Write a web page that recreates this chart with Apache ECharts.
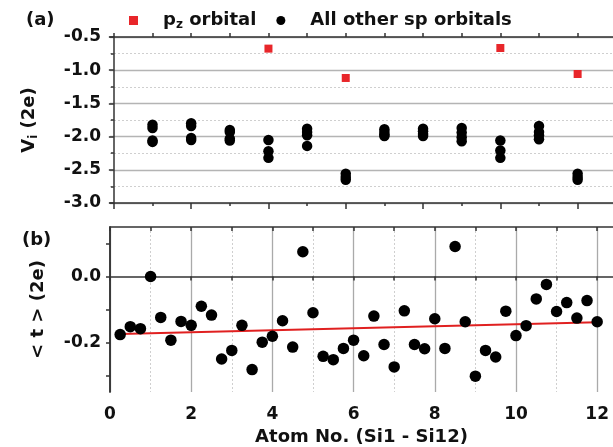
<!DOCTYPE html>
<html><head><meta charset="utf-8">
<script src="https://cdn.jsdelivr.net/npm/echarts@6/dist/echarts.min.js"></script>
<style>html,body{margin:0;padding:0;background:#fff}#c{width:613px;height:447px}</style>
</head><body><div id="c"></div>
<script>
// ---- data ----
const pzAtoms = [4, 6, 10, 12];
const pzValues = [-0.675, -1.117, -0.666, -1.057];
const spAtoms = [1,2,3,4,5,6,7,8,9,10,11,12];
const spValues = [
  [-1.82, -1.87, -2.06, -2.08],
  [-1.80, -1.84, -2.02, -2.05],
  [-1.90, -1.93, -2.03, -2.06],
  [-2.05, -2.22, -2.32],
  [-1.88, -1.93, -1.98, -2.14],
  [-2.56, -2.61, -2.65],
  [-1.89, -1.93, -1.97, -1.99],
  [-1.88, -1.92, -1.96, -1.99],
  [-1.87, -1.94, -2.01, -2.07],
  [-2.06, -2.21, -2.32],
  [-1.84, -1.93, -1.98, -2.04],
  [-2.56, -2.61, -2.65]
];
const tX = [0.25,0.5,0.75,1,1.25,1.5,1.75,2,2.25,2.5,2.75,3,3.25,3.5,3.75,4,4.25,4.5,4.75,5,5.25,5.5,5.75,6,6.25,6.5,6.75,7,7.25,7.5,7.75,8,8.25,8.5,8.75,9,9.25,9.5,9.75,10,10.25,10.5,10.75,11,11.25,11.5,11.75,12];
const tY = [-0.176,-0.152,-0.158,0.0,-0.124,-0.193,-0.136,-0.148,-0.090,-0.117,-0.250,-0.224,-0.148,-0.282,-0.199,-0.181,-0.134,-0.214,0.075,-0.110,-0.242,-0.252,-0.218,-0.193,-0.240,-0.120,-0.206,-0.274,-0.104,-0.206,-0.219,-0.128,-0.218,0.091,-0.137,-0.302,-0.224,-0.244,-0.105,-0.179,-0.149,-0.068,-0.024,-0.106,-0.079,-0.126,-0.073,-0.137];
const fitX = [0.25, 12];
const fitY = [-0.174, -0.139];
const bYLabels = [-0.2, 0.0];
const bYTicks = [-0.3, -0.2, -0.1, 0.0, 0.1];
const bXLabels = [0, 2, 4, 6, 8, 10, 12];
const evenX = [0, 2, 4, 6, 8, 10, 12];
const oddX = [1, 3, 5, 7, 9, 11];
const allX = [0,1,2,3,4,5,6,7,8,9,10,11,12];

// ---- chart ----
const FONT = 'DejaVu Sans';
const AX = '#333';
const chart = echarts.init(document.getElementById('c'), null, {renderer: 'canvas'});

const spData = [];
spAtoms.forEach((a, i) => spValues[i].forEach(v => spData.push([a, v])));
const pzData = pzAtoms.map((a, i) => [a, pzValues[i]]);
const tData = tX.map((x, i) => [x, tY[i]]);
const fitData = fitX.map((x, i) => [x, fitY[i]]);

const lineStyle = {color: AX, width: 1.5};
const baseLabel = {fontFamily: FONT, fontWeight: 'bold', fontSize: 17, color: '#111'};
const PZ = 'pz orbital', SP = 'All other sp orbitals';

chart.setOption({
  animation: false,
  textStyle: {fontFamily: FONT},
  title: [
    {text: '(a)', left: 21, top: 6, textStyle: {fontFamily: FONT, fontWeight: 'bold', fontSize: 18, color: '#111'}},
    {text: '(b)', left: 17, top: 226, textStyle: {fontFamily: FONT, fontWeight: 'bold', fontSize: 18, color: '#111'}}
  ],
  legend: {
    left: 124, top: 5, itemWidth: 9, itemHeight: 9, itemGap: 20,
    data: [
      {name: PZ, icon: 'rect'},
      {name: SP, icon: 'circle'}
    ],
    formatter: n => n === PZ ? '{g|}{b|p}{s|z}{b| orbital}' : '{g|}{b|All other sp orbitals}',
    textStyle: {
      rich: {
        g: {width: 20},
        b: {fontFamily: FONT, fontWeight: 'bold', fontSize: 18, color: '#111', lineHeight: 22},
        s: {fontFamily: FONT, fontWeight: 'bold', fontSize: 12, color: '#111', lineHeight: 22, padding: [9, 0, 0, 0]}
      }
    }
  },
  grid: [
    {left: 110, top: 37, width: 505, height: 166},
    {left: 110, top: 227, width: 505, height: 166}
  ],
  xAxis: [
    {gridIndex: 0, type: 'value', position: 'bottom', min: -0.1, max: 12.915,
     axisLine: {show: true, lineStyle}, axisTick: {show: true, customValues: evenX, length: 6, lineStyle},
     axisLabel: {show: false}, splitLine: {show: false}},
    {gridIndex: 0, type: 'value', position: 'bottom', min: -0.1, max: 12.915,
     axisLine: {show: false}, axisTick: {show: true, customValues: oddX, length: 3, lineStyle},
     axisLabel: {show: false}, splitLine: {show: false}},
    {gridIndex: 0, type: 'value', position: 'top', min: -0.1, max: 12.915,
     axisLine: {show: true, lineStyle}, axisTick: {show: true, customValues: allX, length: 4, lineStyle},
     axisLabel: {show: false}, splitLine: {show: false}},
    {gridIndex: 1, type: 'value', position: 'bottom', min: 0, max: 12.39,
     axisLine: {show: true, lineStyle}, axisTick: {show: true, customValues: evenX, length: 4, lineStyle},
     axisLabel: Object.assign({customValues: bXLabels, margin: 14}, baseLabel),
     splitLine: {show: true, lineStyle: {color: '#aaaaaa', width: 1.3, type: 'solid'}},
     name: 'Atom No. (Si1 - Si12)', nameLocation: 'middle', nameGap: 36,
     nameTextStyle: {fontFamily: FONT, fontWeight: 'bold', fontSize: 18, color: '#111'}},
    {gridIndex: 1, type: 'value', position: 'bottom', min: 0, max: 12.39,
     axisLine: {show: false}, axisTick: {show: true, customValues: oddX, length: 4, lineStyle},
     axisLabel: {show: false},
     splitLine: {show: true, lineStyle: {color: '#cfcfcf', width: 1, type: [2, 2]}}},
    {gridIndex: 1, type: 'value', position: 'top', min: 0, max: 12.39,
     axisLine: {show: true, lineStyle}, axisTick: {show: true, inside: true, customValues: allX, length: 4, lineStyle},
     axisLabel: {show: false}, splitLine: {show: false}}
  ],
  yAxis: [
    {gridIndex: 0, type: 'value', min: -3.0, max: -0.5, interval: 0.5,
     axisLine: {show: true, lineStyle}, axisTick: {show: true, length: 5, lineStyle},
     minorTick: {show: true, splitNumber: 2, length: 3, lineStyle},
     axisLabel: Object.assign({margin: 9, formatter: v => v.toFixed(1)}, baseLabel),
     splitLine: {show: true, lineStyle: {color: '#b4b4b4', width: 1.3}},
     minorSplitLine: {show: true, lineStyle: {color: '#cfcfcf', width: 1, type: [2, 2]}},
     name: '{b|V}{s|i}{b| (2e)}', nameLocation: 'middle', nameRotate: 90, nameGap: 70,
     nameTextStyle: {rich: {
       b: {fontFamily: FONT, fontWeight: 'bold', fontSize: 18, color: '#111', lineHeight: 22},
       s: {fontFamily: FONT, fontWeight: 'bold', fontSize: 12, color: '#111', lineHeight: 22, padding: [9, 0, 0, 0]}
     }}},
    {gridIndex: 1, type: 'value', min: -0.35, max: 0.15,
     axisLine: {show: true, lineStyle}, axisTick: {show: true, customValues: bYTicks, length: 4, lineStyle},
     axisLabel: Object.assign({customValues: bYLabels, margin: 9, formatter: v => v.toFixed(1)}, baseLabel),
     splitLine: {show: false},
     name: '< t > (2e)', nameLocation: 'middle', nameRotate: 90, nameGap: 63,
     nameTextStyle: {fontFamily: FONT, fontWeight: 'bold', fontSize: 18, color: '#111'}},
    {gridIndex: 1, type: 'value', position: 'right', min: -0.35, max: 0.15,
     axisLine: {show: true, lineStyle}, axisTick: {show: true, inside: true, customValues: bYLabels, length: 4, lineStyle},
     axisLabel: {show: false}, splitLine: {show: false}}
  ],
  series: [
    {name: PZ, type: 'scatter', xAxisIndex: 0, yAxisIndex: 0, data: pzData,
     symbol: 'rect', symbolSize: 8, itemStyle: {color: '#e8262a', opacity: 1}, z: 5},
    {name: SP, type: 'scatter', xAxisIndex: 0, yAxisIndex: 0, data: spData,
     symbol: 'circle', symbolSize: 10.5, itemStyle: {color: '#000', opacity: 1}, z: 5},
    {name: 't', type: 'scatter', xAxisIndex: 3, yAxisIndex: 1, data: tData,
     symbol: 'circle', symbolSize: 11.5, itemStyle: {color: '#000', opacity: 1}, z: 5},
    {name: 'fit', type: 'line', xAxisIndex: 3, yAxisIndex: 1, data: fitData,
     showSymbol: false, symbol: 'none', lineStyle: {color: '#e02020', width: 2}, z: 4}
  ]
});
</script>
</body></html>
